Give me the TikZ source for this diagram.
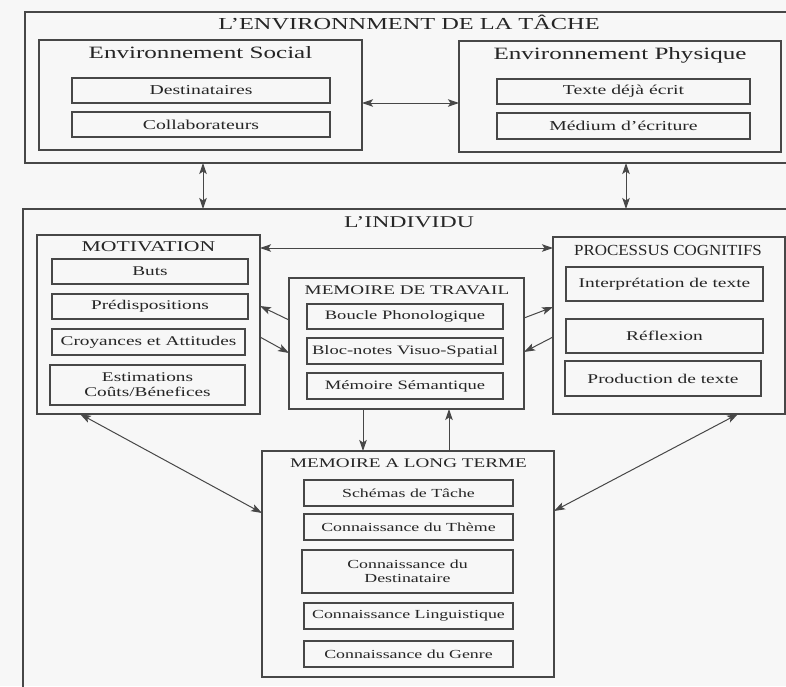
\documentclass[tikz,border=0pt]{standalone}
\usepackage{fontspec}
\setmainfont{Liberation Serif}[FakeStretch=1.45]
\newfontfamily\procfont{Liberation Serif}[FakeStretch=1.1]
\usetikzlibrary{arrows.meta}
\definecolor{ln}{HTML}{474747}
\definecolor{tx}{HTML}{252525}
\definecolor{bg}{HTML}{F7F7F7}
\begin{document}
\begin{tikzpicture}[x=1pt,y=-1pt,
  corners/.style args={#1,#2,#3,#4}{at={({(#1+#3)/2},{(#2+#4)/2})},
     minimum width={#3-#1}, minimum height={#4-#2}},
  bx/.style={draw=ln, line width=1.1pt, inner sep=0pt, outer sep=0pt, text=tx, align=center},
  ttl/.style={anchor=base, text=tx, inner sep=0pt},
  tip/.tip={Stealth[length=11pt,width=7.5pt,inset=2.5pt]},
  conn/.style={draw=ln, line width=1pt, -tip},
  dbl/.style={draw=ln, line width=1pt, tip-tip},
  topitem/.style={bx, font=\fontsize{13.6}{16}\selectfont},
  motitem/.style={bx, font=\fontsize{13.3}{15}\selectfont},
  mdtitem/.style={bx, font=\fontsize{12.8}{15}\selectfont},
  procitem/.style={bx, font=\fontsize{13.4}{16}\selectfont},
  ltitem/.style={bx, font=\fontsize{12.3}{14}\selectfont},
]
\useasboundingbox (0,0) rectangle (786,686);
\fill[bg] (0,0) rectangle (786,686);
\clip (0,0) rectangle (786,686);

% ---- task environment
\node[bx, corners={25,12,800,163}] (task) {};
\node[ttl, font=\fontsize{16.8}{20}\selectfont] (taskT) at (409,29.5) {L'ENVIRONNMENT DE LA TÂCHE};

\node[bx, corners={39,40,362,150}] (social) {};
\node[ttl, font=\fontsize{17.3}{20}\selectfont] (socialT) at (200.5,58.5) {Environnement Social};
\node[topitem, corners={72,78,330,103}] (dest) {Destinataires};
\node[topitem, corners={72,112,330,137}] (collab) {Collaborateurs};

\node[bx, corners={459,41,781,152}] (phys) {};
\node[ttl, font=\fontsize{17.3}{20}\selectfont] (physT) at (620,59.5) {Environnement Physique};
\node[topitem, corners={497,79,750,104}] (texte) {Texte déjà écrit};
\node[topitem, corners={497,113,750,139}] (medium) {Médium d'écriture};

% ---- individual
\node[bx, corners={23,209,800,700}] (indiv) {};
\node[ttl, font=\fontsize{16.4}{20}\selectfont] (indivT) at (409,227.5) {L'INDIVIDU};

\node[bx, corners={37,235,260,414}] (motiv) {};
\node[ttl, font=\fontsize{15}{18}\selectfont] (motivT) at (148.5,251) {MOTIVATION};
\node[motitem, corners={52,259,248,284}] (buts) {Buts};
\node[motitem, corners={52,294,248,319}] (predis) {Prédispositions};
\node[motitem, corners={52,329,245,355}] (croy) {Croyances et Attitudes};
\node[motitem, corners={50,365,245,405}] (estim) {Estimations\\Coûts/Bénefices};

\node[bx, corners={289,278,524,409}] (mdt) {};
\node[ttl, font=\fontsize{13.2}{16}\selectfont] (mdtT) at (407,294.5) {MEMOIRE DE TRAVAIL};
\node[mdtitem, corners={307,304,503,329}] (boucle) {Boucle Phonologique};
\node[mdtitem, corners={307,338,503,364}] (bloc) {Bloc-notes Visuo-Spatial};
\node[mdtitem, corners={307,373,503,399}] (msem) {Mémoire Sémantique};

\node[bx, corners={553,237,785,414}] (proc) {};
\node[ttl, font=\procfont\fontsize{15.4}{18}\selectfont] (procT) at (668,255) {PROCESSUS COGNITIFS};
\node[procitem, corners={566,267,763,301}] (interp) {Interprétation de texte};
\node[procitem, corners={566,319,763,353}] (refl) {Réflexion};
\node[procitem, corners={565,361,761,396}] (prod) {Production de texte};

\node[bx, corners={262,451,554,677}] (lt) {};
\node[ttl, font=\fontsize{13.2}{16}\selectfont] (ltT) at (408.5,467.5) {MEMOIRE A LONG TERME};
\node[ltitem, corners={304,480,513,506}] (schemas) {Schémas de Tâche};
\node[ltitem, corners={304,514,513,540}] (theme) {Connaissance du Thème};
\node[ltitem, corners={302,550,513,593}] (destin) {Connaissance du\\Destinataire};
\node[ltitem, corners={304,603,513,629}] (ling) {Connaissance Linguistique};
\node[ltitem, corners={304,641,513,667}] (genre) {Connaissance du Genre};

% ---- helper coordinates
\coordinate (h1) at (0,103);
\coordinate (v1) at (203,0);
\coordinate (v2) at (626,0);
\coordinate (h2) at (0,248);
\coordinate (a1) at (0,320);
\coordinate (a2) at (0,306);
\coordinate (a3) at (0,337);
\coordinate (a4) at (0,353);
\coordinate (a5) at (0,318);
\coordinate (a6) at (0,307);
\coordinate (a7) at (0,337);
\coordinate (a8) at (0,352);
\coordinate (v3) at (363,0);
\coordinate (v4) at (449,0);
\coordinate (v5) at (80,0);
\coordinate (a9) at (0,513);
\coordinate (v6) at (738,0);
\coordinate (a10) at (0,511);

% ---- connectors
\draw[dbl] (social.east |- h1) -- (phys.west |- h1);
\draw[dbl] (task.south -| v1) -- (indiv.north -| v1);
\draw[dbl] (task.south -| v2) -- (indiv.north -| v2);
\draw[dbl] (motiv.east |- h2) -- (proc.west |- h2);
\draw[conn] (mdt.west |- a1) -- (motiv.east |- a2);
\draw[conn] (motiv.east |- a3) -- (mdt.west |- a4);
\draw[conn] (mdt.east |- a5) -- (proc.west |- a6);
\draw[conn] (proc.west |- a7) -- (mdt.east |- a8);
\draw[conn] (mdt.south -| v3) -- (lt.north -| v3);
\draw[conn] (lt.north -| v4) -- (mdt.south -| v4);
\draw[dbl] (motiv.south -| v5) -- (lt.west |- a9);
\draw[dbl] (proc.south -| v6) -- (lt.east |- a10);
\end{tikzpicture}
\end{document}
